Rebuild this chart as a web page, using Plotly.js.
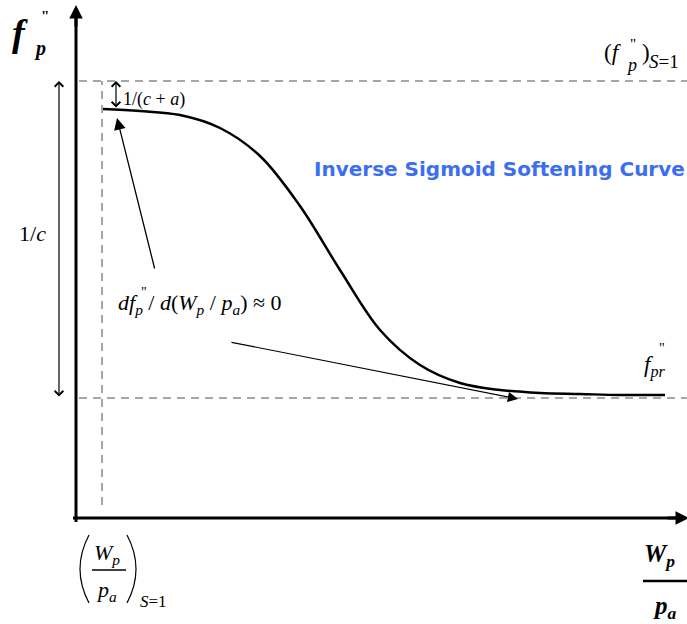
<!DOCTYPE html>
<html>
<head>
<meta charset="utf-8">
<script src="https://cdn.plot.ly/plotly-3.0.1.min.js"></script>
<style>html,body{margin:0;padding:0;background:#fff;}#chart{width:687px;height:624px;}</style>
</head>
<body>
<div id="chart"></div>
<script>
// Normalised W_p/p_a (x) and f_p'' (y) values of the inverse sigmoid softening curve
const curveX = [0.27, 0.64, 1.04, 1.44, 1.84, 2.24, 2.64, 3.04, 3.44, 3.84, 4.24, 4.64, 5.04, 5.44, 5.89];
const curveY = [4.09, 4.07, 4.03, 3.90, 3.62, 3.12, 2.48, 1.88, 1.53, 1.35, 1.28, 1.25, 1.24, 1.23, 1.23];
// reference levels
const fpS1 = 4.37;     // (f_p'')_{S=1}
const fpr = 1.20;      // residual f_pr''
const xS1 = 0.26;      // (W_p/p_a)_{S=1}
const xMax = 6.11, yMax = 5.13;

const serif = 'Liberation Serif, Times New Roman, serif';
const gray = '#a6a6a6';

const traces = [{
  x: curveX, y: curveY, type: 'scatter', mode: 'lines',
  line: {color: '#000', width: 2.5, shape: 'spline', smoothing: 1},
  hoverinfo: 'skip'
}];

const shapes = [
  // dashed reference lines
  {type: 'line', x0: 0.03, x1: xMax, y0: fpS1, y1: fpS1, line: {color: gray, width: 2, dash: '8px,6px'}},
  {type: 'line', x0: 0.03, x1: xMax, y0: fpr, y1: fpr, line: {color: gray, width: 2, dash: '8px,6px'}},
  {type: 'line', x0: xS1, x1: xS1, y0: 0.13, y1: fpS1, line: {color: gray, width: 2, dash: '8px,6px'}},
  // axes
  {type: 'line', x0: 0, x1: 0, y0: -0.04, y1: 5.0, line: {color: '#000', width: 3}},
  {type: 'line', x0: -0.03, x1: 6.0, y0: 0, y1: 0, line: {color: '#000', width: 3}},
  // fraction bars
  {type: 'line', x0: 5.67, x1: xMax, y0: -0.63, y1: -0.63, line: {color: '#000', width: 2.5}},
  {type: 'line', x0: 0.16, x1: 0.50, y0: -0.52, y1: -0.52, line: {color: '#000', width: 1.3}},
  // big parentheses
  {type: 'path', path: 'M 0.13,-0.17 Q -0.05,-0.51 0.13,-0.85', line: {color: '#000', width: 1.2}},
  {type: 'path', path: 'M 0.51,-0.17 Q 0.69,-0.51 0.51,-0.85', line: {color: '#000', width: 1.2}}
];

function arrow(x, y, ax, ay, opts) {
  return Object.assign({x: x, y: y, ax: ax, ay: ay, xref: 'x', yref: 'y', axref: 'x', ayref: 'y',
    text: '', showarrow: true, arrowcolor: '#000', standoff: 0, startstandoff: 0}, opts);
}
function label(x, y, text, size, opts) {
  return Object.assign({x: x, y: y, xref: 'x', yref: 'y', text: text, showarrow: false,
    xanchor: 'left', yanchor: 'middle', font: {family: serif, size: size, color: '#000'}}, opts);
}

const annotations = [
  // axis arrowheads
  arrow(0, yMax, 0, 4.9, {arrowhead: 2, arrowwidth: 3, arrowsize: 0.9}),
  arrow(xMax + 0.02, 0, 5.9, 0, {arrowhead: 2, arrowwidth: 3, arrowsize: 0.9}),
  // dimension arrows
  arrow(-0.17, fpS1, -0.17, fpr, {arrowhead: 4, startarrowhead: 4, arrowside: 'end+start', arrowwidth: 1.2, arrowsize: 1.4, startarrowsize: 1.4}),
  arrow(0.40, fpS1, 0.40, curveY[0], {arrowhead: 4, startarrowhead: 4, arrowside: 'end+start', arrowwidth: 1.2, arrowsize: 1.4, startarrowsize: 1.4}),
  // pointer arrows
  arrow(0.41, 4.00, 0.79, 2.48, {arrowhead: 2, arrowwidth: 1.3, arrowsize: 1.8}),
  arrow(4.42, 1.19, 1.54, 1.76, {arrowhead: 2, arrowwidth: 1.2, arrowsize: 1.7}),
  // y-axis label f_p''
  label(-0.66, 4.85, '<b><i>f</i></b>', 38),
  label(-0.44, 4.70, '<b><i>p</i></b>', 20),
  label(-0.37, 5.02, '<b>"</b>', 15),
  // (f_p'')_{S=1}
  label(5.26, 4.66, '(<i>f</i>', 23),
  label(5.48, 4.53, '<i>p</i>', 18),
  label(5.64, 4.66, ')', 23),
  label(5.71, 4.57, '<i>S</i>=1', 19),
  label(5.52, 4.74, '"', 15),
  // other labels
  label(0.45, 4.19, '1/(<i>c</i> + <i>a</i>)', 18),
  label(-0.59, 2.85, '1/<i>c</i>', 22),
  label(4.23, 3.49, '<b>Inverse Sigmoid Softening Curve</b>', 20, {xanchor: 'center', font: {family: 'DejaVu Sans, Verdana, sans-serif', size: 20, color: '#3c6ef2'}}),
  label(0.40, 2.14, '<i>df</i><sub><i>p</i></sub> / <i>d</i>(<i>W</i><sub><i>p</i></sub> / <i>p</i><sub><i>a</i></sub>) ≈ 0', 22),
  label(0.63, 2.26, '"', 14),
  label(5.66, 1.52, '<i>f</i><sub><i>pr</i></sub>', 23),
  label(5.81, 1.70, '"', 14),
  // axis title W_p / p_a
  label(5.66, -0.37, '<b><i>W</i><sub><i>p</i></sub></b>', 25),
  label(5.75, -0.89, '<b><i>p</i><sub><i>a</i></sub></b>', 25),
  // (W_p / p_a)_{S=1}
  label(0.16, -0.36, '<i>W</i><sub><i>p</i></sub>', 22),
  label(0.18, -0.73, '<i>p</i><sub><i>a</i></sub>', 22),
  label(0.62, -0.83, '<i>S</i>=1', 17)
];

const layout = {
  width: 687, height: 624, autosize: false,
  margin: {l: 0, r: 0, t: 0, b: 0},
  paper_bgcolor: '#fff', plot_bgcolor: '#fff',
  showlegend: false,
  xaxis: {range: [-0.76, xMax], visible: false, fixedrange: true},
  yaxis: {range: [-1.06, 5.18], visible: false, fixedrange: true},
  shapes: shapes, annotations: annotations
};

Plotly.newPlot('chart', traces, layout, {displayModeBar: false, staticPlot: true});
</script>
</body>
</html>
